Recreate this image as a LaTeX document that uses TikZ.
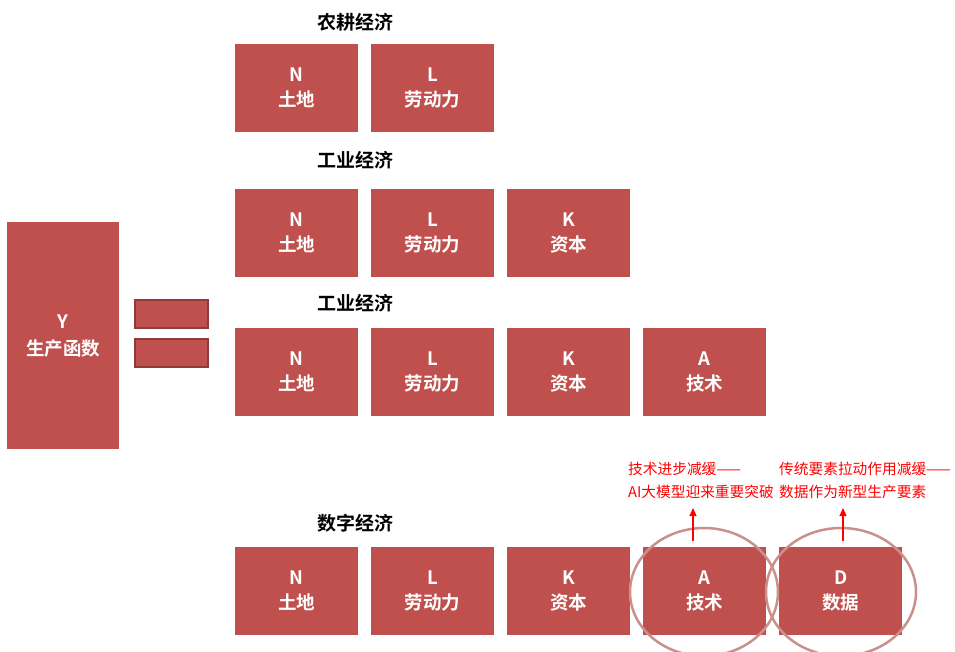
\documentclass[tikz,border=0pt]{standalone}
\usepackage{fontspec}
\setmainfont{Noto Sans CJK SC}[BoldFont={Noto Sans CJK SC Bold}]
\usetikzlibrary{arrows.meta}
\definecolor{boxred}{HTML}{C0504D}
\definecolor{ringc}{HTML}{CB8F8C}
\definecolor{bardark}{HTML}{8E3B39}
\begin{document}
\begin{tikzpicture}[x=1pt,y=-1pt,
  fbox/.style={fill=boxred,draw=none,minimum width=123pt,minimum height=88pt,inner sep=0pt,
    text=white,font=\fontsize{18.5}{25}\selectfont\bfseries,align=center,anchor=north west},
  ybox/.style={fill=boxred,draw=none,minimum width=112pt,minimum height=227pt,inner sep=0pt,
    text=white,font=\fontsize{18.5}{27}\selectfont\bfseries,align=center,anchor=north west},
  eqbar/.style={fill=boxred,draw=bardark,line width=1.5pt,minimum width=73pt,minimum height=28pt,inner sep=0pt,anchor=north west},
  ttl/.style={font=\fontsize{19}{22}\selectfont\bfseries,text=black},
  ring/.style={draw=ringc,line width=2.5pt},
  note/.style={font=\fontsize{14.7}{23}\selectfont,text=red,align=left,anchor=north west,inner sep=0pt},
  up/.style={draw=red,line width=1.2pt,-{Triangle[length=8pt,width=7pt]}}]
\useasboundingbox[fill=white] (0,0) rectangle (955,651);
% Y and equals
\node[ybox] (y) at (7,222) {Y\\生产函数};
\node[eqbar] (eq1) at (134,299) {};
\node[eqbar] (eq2) at (134,338) {};
% row 1
\node[ttl] (t1) at (355,22) {农耕经济};
\node[fbox] (r1n) at (235,44) {N\\土地};
\node[fbox] (r1l) at (371,44) {L\\劳动力};
% row 2
\node[ttl] (t2) at (355,160) {工业经济};
\node[fbox] (r2n) at (235,189) {N\\土地};
\node[fbox] (r2l) at (371,189) {L\\劳动力};
\node[fbox] (r2k) at (507,189) {K\\资本};
% row 3
\node[ttl] (t3) at (355,303) {工业经济};
\node[fbox] (r3n) at (235,328) {N\\土地};
\node[fbox] (r3l) at (371,328) {L\\劳动力};
\node[fbox] (r3k) at (507,328) {K\\资本};
\node[fbox] (r3a) at (643,328) {A\\技术};
% row 4
\node[ttl] (t4) at (355,523) {数字经济};
\node[fbox] (r4n) at (235,547) {N\\土地};
\node[fbox] (r4l) at (371,547) {L\\劳动力};
\node[fbox] (r4k) at (507,547) {K\\资本};
\node[fbox] (r4a) at (643,547) {A\\技术};
\node[fbox] (r4d) at (779,547) {D\\数据};
% rings
\draw[ring] (704,592) ellipse (74 and 64);
\draw[ring] (841,592) ellipse (75 and 64);
% notes
\node[note] (n1) at (628,462) {技术进步减缓——\\AI大模型迎来重要突破};
\node[note] (n2) at (779,462) {传统要素拉动作用减缓——\\数据作为新型生产要素};
\coordinate (a1s) at (693,541);
\coordinate (a1e) at (693,508);
\coordinate (a2s) at (843,541);
\coordinate (a2e) at (843,508);
\draw[up] (a1s) -- (a1e);
\draw[up] (a2s) -- (a2e);
\end{tikzpicture}
\end{document}
